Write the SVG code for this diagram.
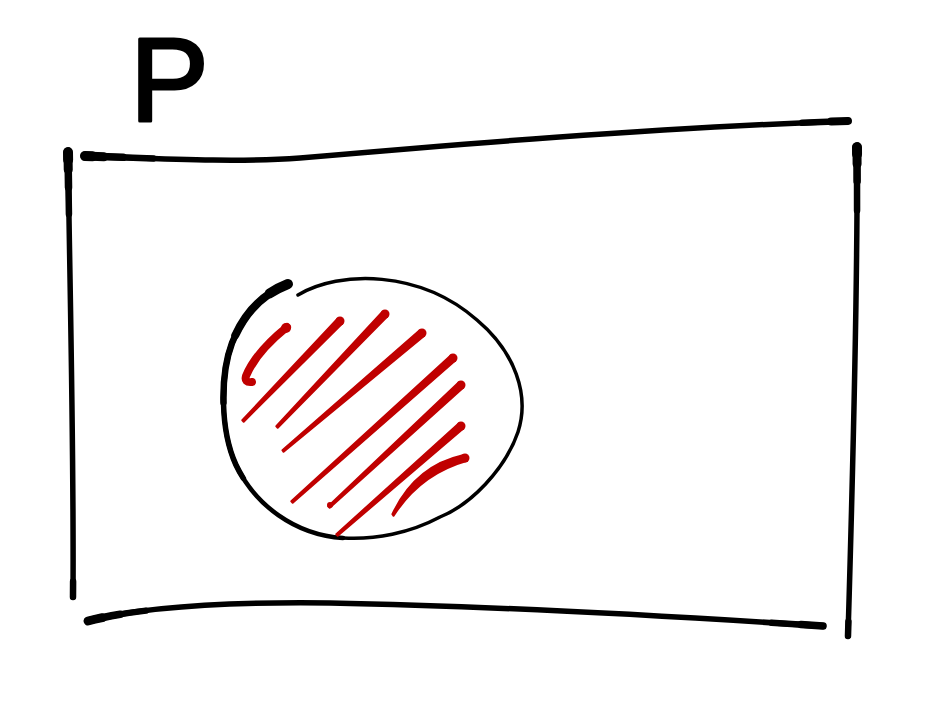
<svg xmlns="http://www.w3.org/2000/svg" width="930" height="707" viewBox="0 0 930 707">
<style>
.ink{fill:none;stroke:#000;stroke-linecap:round;stroke-linejoin:round}
.hatch{fill:#c00000;stroke:#c00000;stroke-width:2;stroke-linejoin:round}
.hl{fill:none;stroke:#c00000;stroke-linecap:round;stroke-linejoin:round}
.dot{fill:#c00000}
.lbl{font-family:"Liberation Sans",Arial,sans-serif;font-size:118px;fill:#000;stroke:#000;stroke-width:3;stroke-linejoin:round}
</style>
<rect width="930" height="707" fill="#fff"/>
<g id="label">
<text class="lbl" x="130" y="121">P</text>
</g>
<g id="frame">
<g id="edge-top">
<path class="ink" stroke-width="5.5" d="M 85 156 C 150 158, 230 163, 300 158 C 450 145, 650 128, 848 121"/>
<path class="ink" stroke-width="6.5" pathLength="1000" stroke-dasharray="90 1910" d="M 85 156 C 150 158, 230 163, 300 158 C 450 145, 650 128, 848 121"/>
<path class="ink" stroke-width="7.5" pathLength="1000" stroke-dasharray="50 1950" d="M 85 156 C 150 158, 230 163, 300 158 C 450 145, 650 128, 848 121"/>
<path class="ink" stroke-width="9" pathLength="1000" stroke-dasharray="25 1975" d="M 85 156 C 150 158, 230 163, 300 158 C 450 145, 650 128, 848 121"/>
<path class="ink" stroke-width="10" pathLength="1000" stroke-dasharray="10 1990" d="M 85 156 C 150 158, 230 163, 300 158 C 450 145, 650 128, 848 121"/>
<path class="ink" stroke-width="6.5" pathLength="1000" stroke-dasharray="60 1940" d="M 848 121 C 650 128, 450 145, 300 158 C 230 163, 150 158, 85 156"/>
<path class="ink" stroke-width="8" pathLength="1000" stroke-dasharray="22 1978" d="M 848 121 C 650 128, 450 145, 300 158 C 230 163, 150 158, 85 156"/>
</g>
<g id="edge-left">
<path class="ink" stroke-width="5.5" d="M 68 152 C 70 300, 74 450, 73 597"/>
<path class="ink" stroke-width="6.5" pathLength="1000" stroke-dasharray="140 1860" d="M 68 152 C 70 300, 74 450, 73 597"/>
<path class="ink" stroke-width="7.5" pathLength="1000" stroke-dasharray="80 1920" d="M 68 152 C 70 300, 74 450, 73 597"/>
<path class="ink" stroke-width="9" pathLength="1000" stroke-dasharray="40 1960" d="M 68 152 C 70 300, 74 450, 73 597"/>
<path class="ink" stroke-width="10" pathLength="1000" stroke-dasharray="18 1982" d="M 68 152 C 70 300, 74 450, 73 597"/>
<path class="ink" stroke-width="6.5" pathLength="1000" stroke-dasharray="35 1965" d="M 73 597 C 74 450, 70 300, 68 152"/>
</g>
<g id="edge-right">
<path class="ink" stroke-width="5.5" d="M 857 147 C 858 300, 852 500, 848 636"/>
<path class="ink" stroke-width="6.5" pathLength="1000" stroke-dasharray="130 1870" d="M 857 147 C 858 300, 852 500, 848 636"/>
<path class="ink" stroke-width="7.5" pathLength="1000" stroke-dasharray="70 1930" d="M 857 147 C 858 300, 852 500, 848 636"/>
<path class="ink" stroke-width="9" pathLength="1000" stroke-dasharray="35 1965" d="M 857 147 C 858 300, 852 500, 848 636"/>
<path class="ink" stroke-width="10" pathLength="1000" stroke-dasharray="15 1985" d="M 857 147 C 858 300, 852 500, 848 636"/>
<path class="ink" stroke-width="6.5" pathLength="1000" stroke-dasharray="30 1970" d="M 848 636 C 852 500, 858 300, 857 147"/>
</g>
<g id="edge-bottom">
<path class="ink" stroke-width="5.5" d="M 88 621 C 150 605, 250 602, 330 603 C 500 606, 700 618, 823 626"/>
<path class="ink" stroke-width="6.5" pathLength="1000" stroke-dasharray="80 1920" d="M 88 621 C 150 605, 250 602, 330 603 C 500 606, 700 618, 823 626"/>
<path class="ink" stroke-width="7.5" pathLength="1000" stroke-dasharray="45 1955" d="M 88 621 C 150 605, 250 602, 330 603 C 500 606, 700 618, 823 626"/>
<path class="ink" stroke-width="9" pathLength="1000" stroke-dasharray="20 1980" d="M 88 621 C 150 605, 250 602, 330 603 C 500 606, 700 618, 823 626"/>
<path class="ink" stroke-width="6.5" pathLength="1000" stroke-dasharray="70 1930" d="M 823 626 C 700 618, 500 606, 330 603 C 250 602, 150 605, 88 621"/>
<path class="ink" stroke-width="7.5" pathLength="1000" stroke-dasharray="30 1970" d="M 823 626 C 700 618, 500 606, 330 603 C 250 602, 150 605, 88 621"/>
</g>
</g>
<g id="circle">
<path class="ink" stroke-width="3.5" d="M 298 295 C 340 270, 420 270, 477 320 C 515 352, 530 395, 518 432 C 505 470, 470 505, 440 517 C 410 533, 375 540, 343 538"/>
<path class="ink" stroke-width="4.5" d="M 288 284 C 265 293, 245 310, 232 343 C 220 375, 220 430, 236 465 C 255 505, 295 535, 343 538"/>
<path class="ink" stroke-width="5.5" pathLength="1000" stroke-dasharray="650 1350" d="M 288 284 C 265 293, 245 310, 232 343 C 220 375, 220 430, 236 465 C 255 505, 295 535, 343 538"/>
<path class="ink" stroke-width="6.5" pathLength="1000" stroke-dasharray="420 1580" d="M 288 284 C 265 293, 245 310, 232 343 C 220 375, 220 430, 236 465 C 255 505, 295 535, 343 538"/>
<path class="ink" stroke-width="8" pathLength="1000" stroke-dasharray="220 1780" d="M 288 284 C 265 293, 245 310, 232 343 C 220 375, 220 430, 236 465 C 255 505, 295 535, 343 538"/>
<path class="ink" stroke-width="10" pathLength="1000" stroke-dasharray="60 1940" d="M 288 284 C 265 293, 245 310, 232 343 C 220 375, 220 430, 236 465 C 255 505, 295 535, 343 538"/>
</g>
<g id="hatching">
<path class="hl" stroke-width="8" d="M 287 327 Q 256 352 246 376 Q 244 383 252 382"/>
<circle class="dot" cx="286" cy="328" r="5"/>
<path class="hatch" d="M 337.5 318.6 L 242.3 420.3 L 243.7 421.7 L 342.5 323.4 Z"/>
<circle class="dot" cx="340" cy="321" r="4.5"/>
<path class="hatch" d="M 382.5 311.6 L 276.3 426.3 L 277.7 427.7 L 387.5 316.4 Z"/>
<circle class="dot" cx="385" cy="314" r="4.5"/>
<path class="hatch" d="M 419.7 330.3 L 282.4 450.2 L 283.6 451.8 L 424.3 335.7 Z"/>
<circle class="dot" cx="422" cy="333" r="4.5"/>
<path class="hatch" d="M 450.7 355.4 L 291.3 501.3 L 292.7 502.7 L 455.3 360.6 Z"/>
<circle class="dot" cx="453" cy="358" r="4.5"/>
<path class="hatch" d="M 458.6 382.4 L 328.3 506.3 L 329.7 507.7 L 463.4 387.6 Z"/>
<circle class="dot" cx="461" cy="385" r="4.5"/>
<circle class="dot" cx="330" cy="505" r="3"/>
<path class="hatch" d="M 458.7 423.4 L 336.3 534.3 L 337.7 535.7 L 463.3 428.6 Z"/>
<circle class="dot" cx="461" cy="426" r="4.5"/>
<path class="hatch" d="M 462.8 455.3 Q 415 466 392.4 514.2 L 393.6 515.8 Q 420 474 467.2 460.7 Z"/>
<circle class="dot" cx="465" cy="458" r="4.5"/>
</g>
</svg>
